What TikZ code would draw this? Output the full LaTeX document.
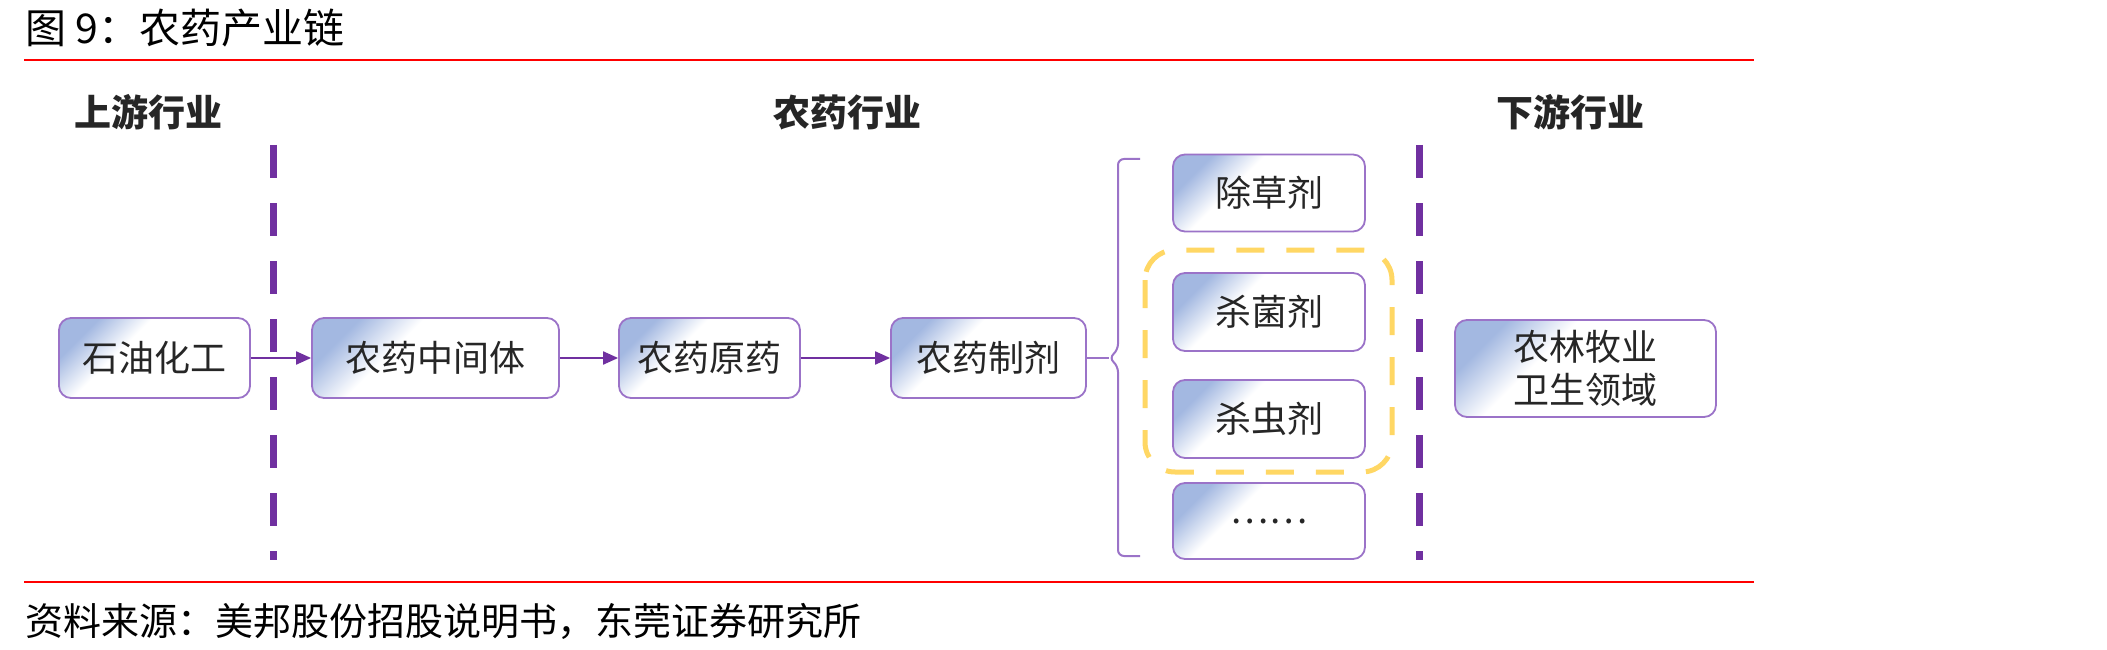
\documentclass[tikz,border=0pt]{standalone}
\usepackage{fontspec}
\setmainfont{Noto Sans CJK SC}
\usetikzlibrary{arrows.meta}
\definecolor{boxborder}{RGB}{155,115,200}
\definecolor{boxblue}{RGB}{163,184,225}
\definecolor{darkpurple}{RGB}{112,48,160}
\definecolor{gold}{RGB}{255,215,100}
\definecolor{txt}{RGB}{38,38,38}
\pgfdeclareverticalshading{boxshade}{100bp}{color(0bp)=(white); color(61bp)=(white); color(75bp)=(boxblue); color(100bp)=(boxblue)}
\begin{document}
\begin{tikzpicture}[x=1pt,y=-1pt,
  box/.style={draw=boxborder, line width=1.8pt, rounded corners=12pt,
    shading=boxshade, shading angle=45,
    font=\fontsize{36}{43}\selectfont, text=txt, align=center, inner sep=0pt},
  hdr/.style={font=\fontsize{37}{44}\selectfont\bfseries, text=txt},
  vline/.style={draw=darkpurple, line width=7pt, dash pattern=on 33pt off 25pt},
  goldbox/.style={draw=gold, line width=5pt, rounded corners=30pt, dash pattern=on 28pt off 22pt},
  arr/.style={draw=darkpurple, line width=2pt, -{Triangle[length=15pt,width=13pt]}},
  conn/.style={draw=boxborder, line width=2pt},
  redline/.style={draw=red, line width=2pt}]
\fill[white] (0,0) rectangle (2107,650);
\useasboundingbox (0,0) rectangle (2107,650);
% title and rules
\node[anchor=west, font=\fontsize{41}{49}\selectfont] (title) at (22,28) {图 9：农药产业链};
\draw[redline] (24,60) -- (1754,60);
\draw[redline] (24,582) -- (1754,582);
\node[anchor=west, font=\fontsize{38}{45}\selectfont] (src) at (22,621) {资料来源：美邦股份招股说明书，东莞证券研究所};
% headers
\node[hdr] (up) at (148,112) {上游行业};
\node[hdr] (mid) at (847,112) {农药行业};
\node[hdr] (down) at (1570,112) {下游行业};
% dashed separators
\draw[vline] (273,145) -- (273,560);
\draw[vline] (1419,145) -- (1419,560);
% chain boxes
\node[box, shade, minimum width=191pt, minimum height=80pt] (shi) at (154.5,358) {石油化工};
\node[box, shade, minimum width=247pt, minimum height=80pt] (zhong) at (435.5,358) {农药中间体};
\node[box, shade, minimum width=181pt, minimum height=80pt] (yuan) at (709.5,358) {农药原药};
\node[box, shade, minimum width=195pt, minimum height=80pt] (zhiji) at (988.5,358) {农药制剂};
% product boxes
\node[box, shade, minimum width=192pt, minimum height=77pt] (chucao) at (1269,193) {除草剂};
\node[box, shade, minimum width=192pt, minimum height=78pt] (junji) at (1269,312) {杀菌剂};
\node[box, shade, minimum width=192pt, minimum height=78pt] (chong) at (1269,419) {杀虫剂};
\node[box, shade, minimum width=192pt, minimum height=76pt] (more) at (1269,521) {……};
% downstream
\node[box, shade, minimum width=261pt, minimum height=97pt] (field) at (1585.5,368.5) {农林牧业\\卫生领域};
% gold dashed group
\draw[goldbox] (1145,250) rectangle (1392,472);
% arrows
\draw[arr] (shi) -- (zhong);
\draw[arr] (zhong) -- (yuan);
\draw[arr] (yuan) -- (zhiji);
% brace
\coordinate (tip) at (1109,358);
\draw[conn] (zhiji.east) -- (tip);
\draw[conn, rounded corners=6pt] (1140,159) -- (1118,159) -- (1118,350) -- (tip) -- (1118,366) -- (1118,556) -- (1140,556);
\end{tikzpicture}
\end{document}
